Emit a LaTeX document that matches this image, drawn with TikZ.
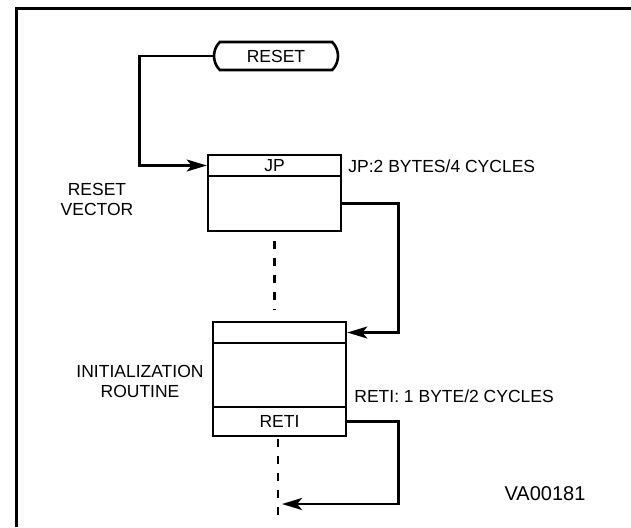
\documentclass[tikz,border=0pt]{standalone}
\usepackage{fontspec}
\setmainfont{Liberation Sans}
\usetikzlibrary{arrows.meta}
\usetikzlibrary{shapes.misc}

\begin{document}
\begin{tikzpicture}[x=0.5pt,y=-0.5pt,
	cell/.style={draw, line width=1.3pt, minimum width=66.5pt, inner sep=0pt, font=\fontsize{8.75}{10}\selectfont},
	flow/.style={line width=1.3pt, -{Stealth[length=10pt,width=6pt,inset=2.5pt]}},
	dots/.style={line width=1.2pt, dash pattern=on 4pt off 4.5pt},
	txt/.style={font=\fontsize{8.75}{10}\selectfont, align=center, inner sep=0pt}]
\useasboundingbox (0,0) rectangle (631,527);
\draw [line width=1.5pt] (16,527) to (16,8) to (631,8);

\node[cell, rounded rectangle, rounded rectangle arc length=90, minimum width=62pt, minimum height=14pt] (reset) at (276,56) {RESET};

\node[cell, minimum height=10.5pt] (jp) at (274.5,165.5) {JP};
\node[cell, minimum height=27.5pt] (vec) at (274.5,203.5) {};
\node[cell, minimum height=10.5pt] (top) at (279.5,332.5) {};
\node[cell, minimum height=32pt] (init) at (279.5,375) {};
\node[cell, minimum height=14.5pt] (reti) at (279.5,421.5) {RETI};

\node[txt, anchor=west] (jpcost) at (348,166) {JP:2 BYTES/4 CYCLES};
\node[txt, anchor=west] (reticost) at (354,396) {RETI: 1 BYTE/2 CYCLES};
\node[txt] (veclabel) at (97,199) {RESET\\VECTOR};
\node[txt] (initlabel) at (140,381) {INITIALIZATION\\ROUTINE};
\node[txt, font=\fontsize{10}{12}\selectfont] (figid) at (545,494) {VA00181};

\draw[flow] (reset.west) -- ++(-73,0) |- (jp.west);
\draw[flow] (vec.east) -- ++(56,0) |- (top.east);
\coordinate (loopend) at (282,504);
\draw[flow] (reti.east) -- ++(51,0) |- (loopend);

\draw[dots] (vec.south) ++(0,9) -- ++(0,69);
\draw[dots] (reti.south) ++(-1.5,2) -- ++(0,80);

\end{tikzpicture}
\end{document}
